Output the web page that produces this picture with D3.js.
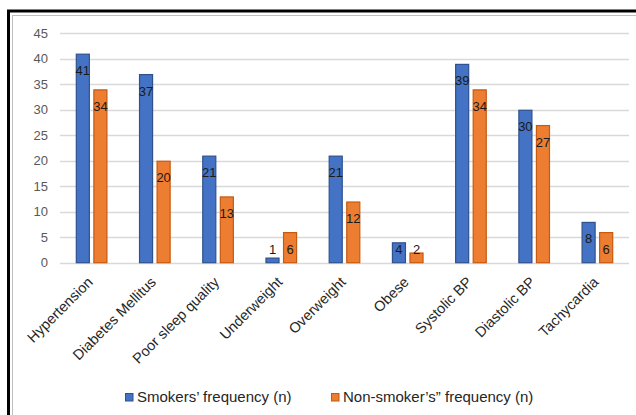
<!DOCTYPE html>
<html><head><meta charset="utf-8">
<script src="https://cdn.jsdelivr.net/npm/d3@7"></script>
<style>body{margin:0;background:#fff}svg{display:block}</style>
</head><body>
<script>
const categories = ["Hypertension","Diabetes Mellitus","Poor sleep quality","Underweight","Overweight","Obese","Systolic BP","Diastolic BP","Tachycardia"];
const smokers = [41,37,21,1,21,4,39,30,8];
const nonSmokers = [34,20,13,6,12,2,34,27,6];
const seriesNames = ["Smokers\u2019 frequency (n)","Non-smoker\u2019s\u201D frequency (n)"];
const yTicks = [0,5,10,15,20,25,30,35,40,45];

const W=636,H=415;
const svg=d3.select("body").append("svg").attr("width",W).attr("height",H);
// borders
svg.append("rect").attr("x",8.5).attr("y",11).attr("width",800).attr("height",600)
  .attr("fill","none").attr("stroke","#000").attr("stroke-width",3);
svg.append("rect").attr("x",12.5).attr("y",15.5).attr("width",800).attr("height",600)
  .attr("fill","none").attr("stroke","#BFBFBF").attr("stroke-width",1);

const x0=d3.scaleBand().domain(categories).range([60,629]).paddingInner(0.5).paddingOuter(0.25);
const x1=d3.scaleBand().domain([0,1]).range([0,x0.bandwidth()]).paddingInner(0.2);
const y=d3.scaleLinear().domain([0,45]).range([262.7,33.3]);

// gridlines
svg.append("g").selectAll("line").data(yTicks).join("line")
  .attr("x1",60).attr("x2",629).attr("y1",d=>Math.round(y(d))+0.5).attr("y2",d=>Math.round(y(d))+0.5)
  .attr("stroke","#D9D9D9").attr("stroke-width",1.3);
// y axis labels
const yAxis=d3.axisLeft(y).tickValues(yTicks).tickSize(0).tickPadding(0);
const ga=svg.append("g").attr("transform","translate(48,0)").call(yAxis);
ga.select(".domain").remove();
ga.selectAll("text").attr("font-family","Liberation Sans, Arial, sans-serif").attr("font-size",13).attr("fill","#595959");

const colors=["#4472C4","#ED7D31"], strokes=["#2F528F","#C55A11"];
const data=categories.map((c,i)=>({c,v:[smokers[i],nonSmokers[i]]}));
const g=svg.append("g");
data.forEach(d=>{
  d.v.forEach((v,k)=>{
    const bx=x0(d.c)+x1(k), bw=x1.bandwidth();
    g.append("rect").attr("x",bx+0.5).attr("y",y(v)+0.5).attr("width",bw-1).attr("height",Math.max(0,y(0)-y(v)-0.5))
      .attr("fill",colors[k]).attr("stroke",strokes[k]).attr("stroke-width",1.2);
    g.append("text").attr("x",bx+bw/2).attr("y",Math.min(y(v)+17,249)).attr("dy","0.35em")
      .attr("text-anchor","middle").attr("font-family","Liberation Sans, Arial, sans-serif")
      .attr("font-size",13).attr("fill","#1a1a1a").text(v);
  });
});

// x labels
svg.append("g").selectAll("text").data(categories).join("text")
  .attr("transform",d=>`translate(${x0(d)+x0.bandwidth()/2+2},283) rotate(-45)`)
  .attr("text-anchor","end")
  .attr("font-family","Liberation Sans, Arial, sans-serif").attr("font-size",14.5).attr("fill","#262626")
  .text(d=>d);

// legend
const lg=svg.append("g");
const lx=[125,331];
seriesNames.forEach((n,k)=>{
  lg.append("rect").attr("x",lx[k]+0.5).attr("y",393.5).attr("width",7.5).attr("height",7.5)
    .attr("fill",colors[k]).attr("stroke",strokes[k]).attr("stroke-width",1);
  lg.append("text").attr("x",lx[k]+12).attr("y",397).attr("dy","0.35em")
    .attr("font-family","Liberation Sans, Arial, sans-serif").attr("font-size",15).attr("fill","#262626").text(n);
});
</script>
</body></html>
